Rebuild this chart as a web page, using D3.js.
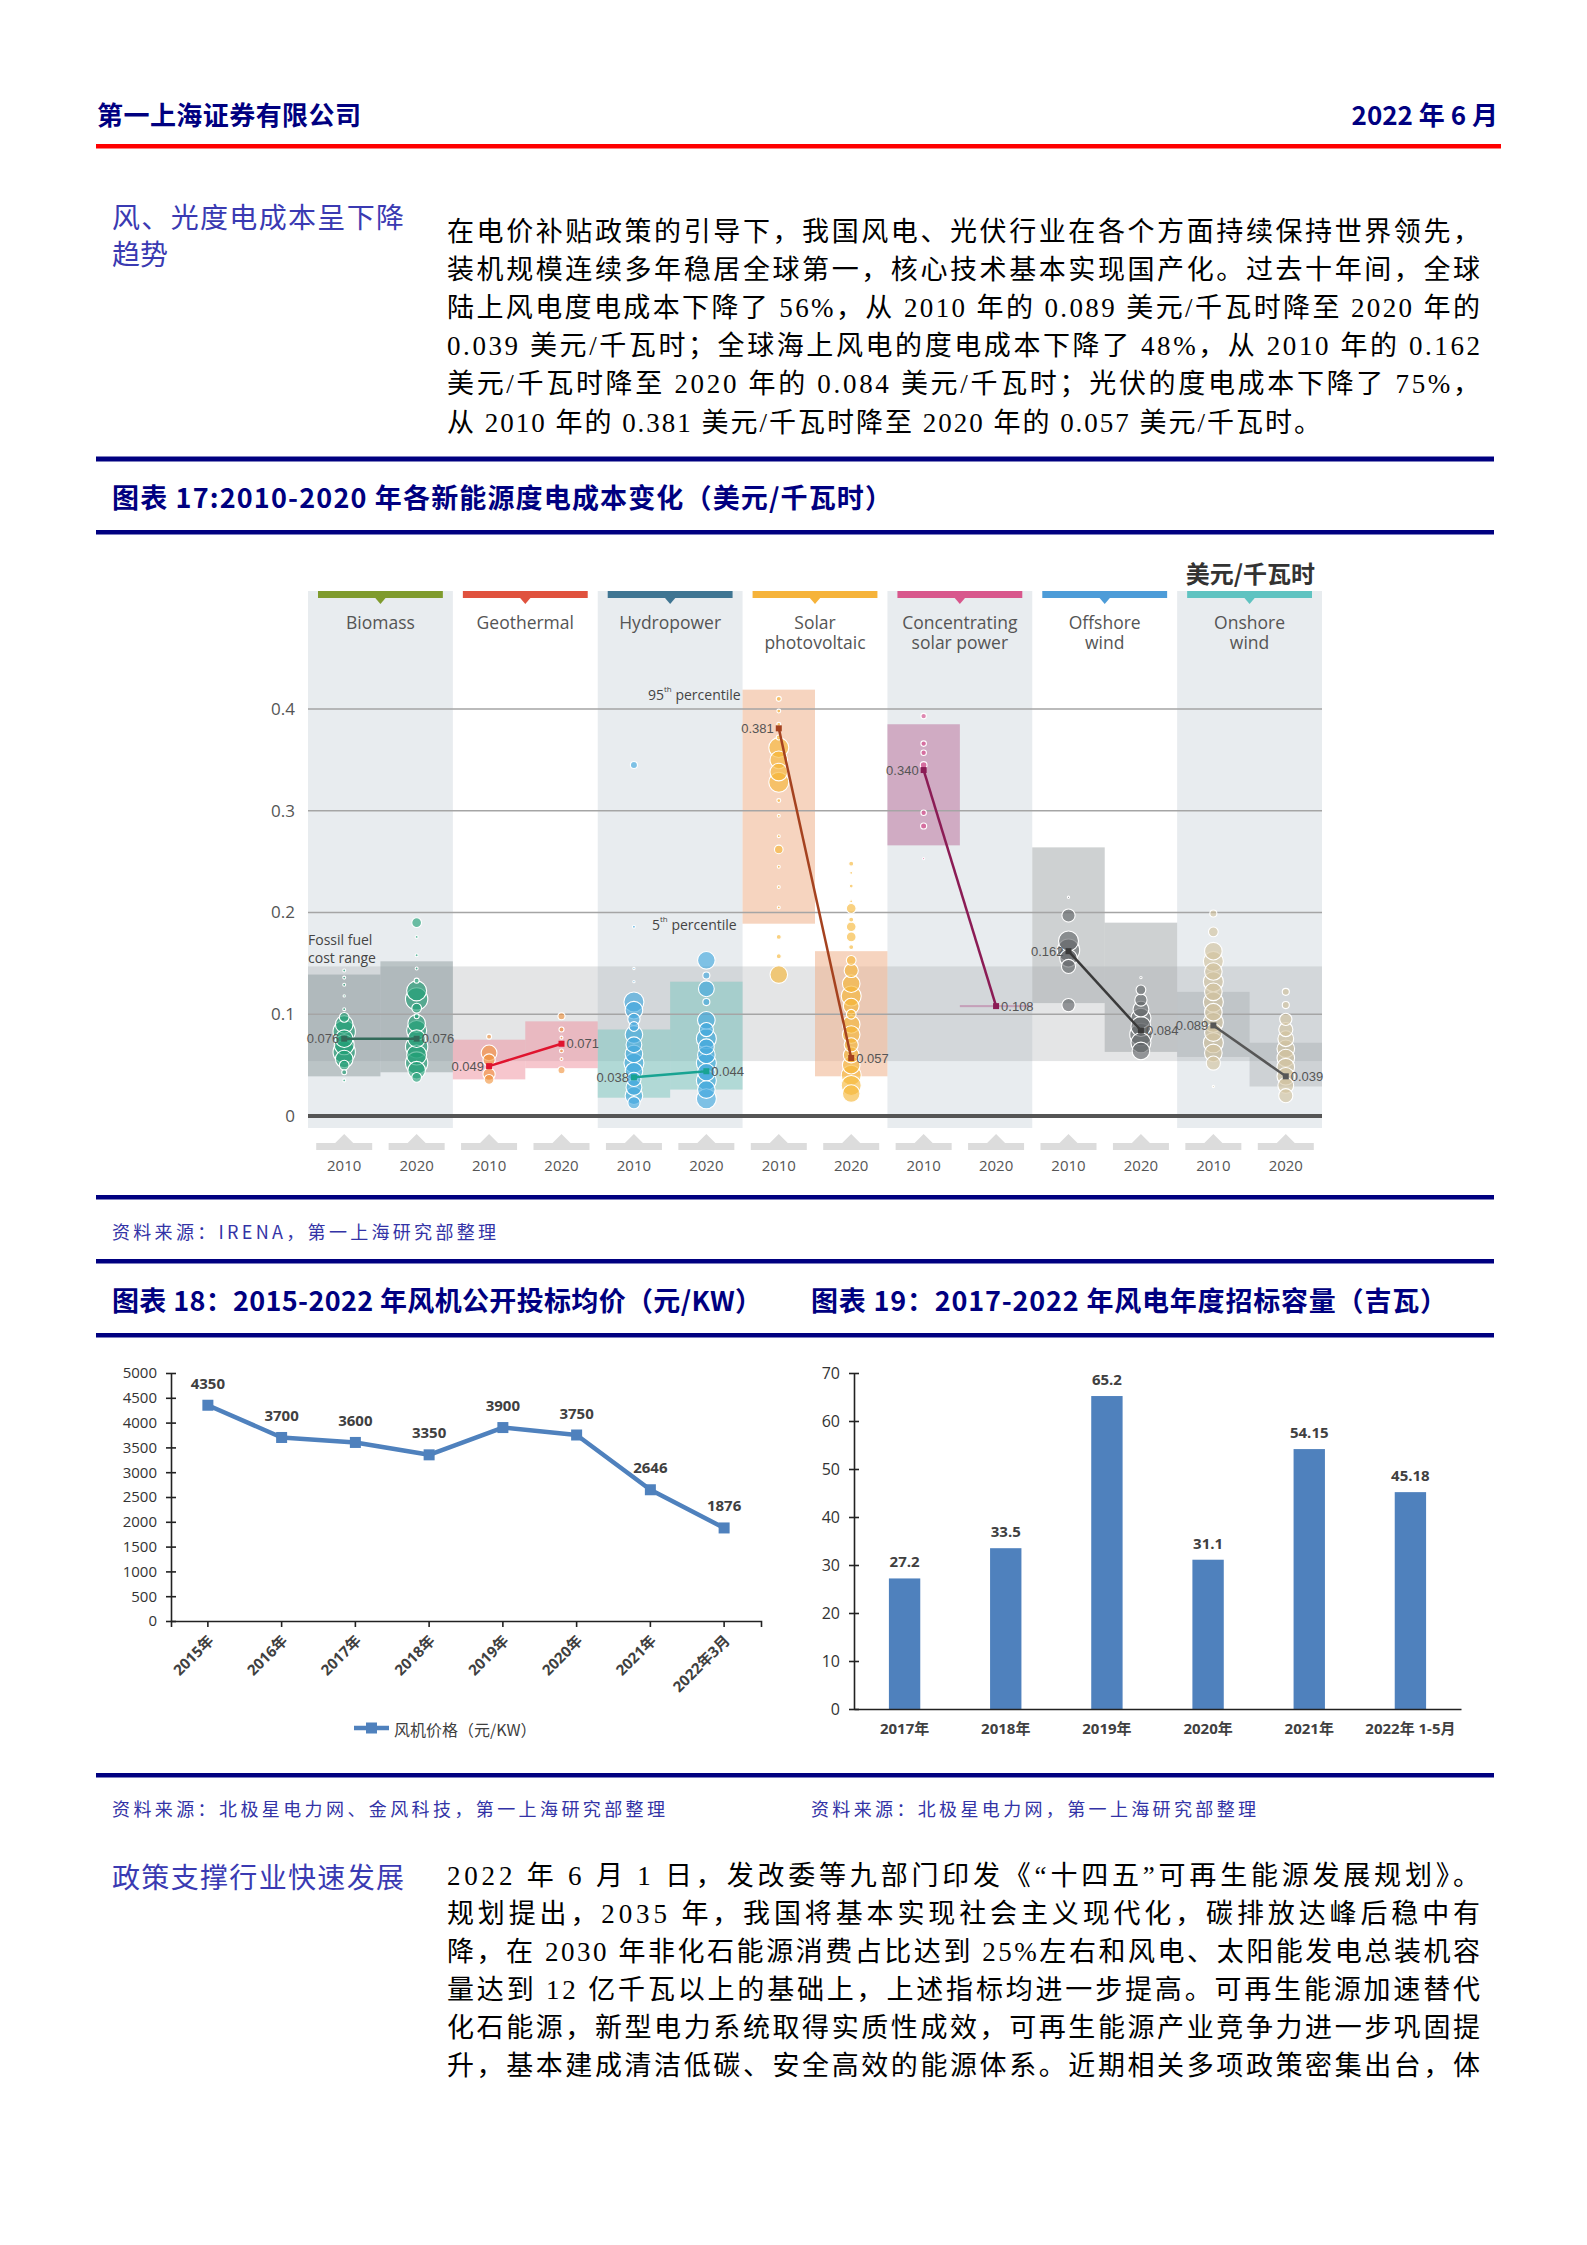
<!DOCTYPE html>
<html>
<head>
<meta charset="utf-8">
<script src="https://cdn.jsdelivr.net/npm/d3@7"></script>
<style>
body { margin: 0; background: #fff; }
svg { display: block; }
</style>
</head>
<body>
<script>
// ---- page text ----
var headerLeft = "第一上海证券有限公司";
var headerRight = "2022 年 6 月";
var side1 = ["风、光度电成本呈下降", "趋势"];
var para1 = [
  "在电价补贴政策的引导下，我国风电、光伏行业在各个方面持续保持世界领先，",
  "装机规模连续多年稳居全球第一，核心技术基本实现国产化。过去十年间，全球",
  "陆上风电度电成本下降了 56%，从 2010 年的 0.089 美元/千瓦时降至 2020 年的",
  "0.039 美元/千瓦时；全球海上风电的度电成本下降了 48%，从 2010 年的 0.162",
  "美元/千瓦时降至 2020 年的 0.084 美元/千瓦时；光伏的度电成本下降了 75%，",
  "从 2010 年的 0.381 美元/千瓦时降至 2020 年的 0.057 美元/千瓦时。"
];
var title17 = "图表 17:2010-2020 年各新能源度电成本变化（美元/千瓦时）";
var source17 = "资料来源：IRENA，第一上海研究部整理";
var title18 = "图表 18：2015-2022 年风机公开投标均价（元/KW）";
var title19 = "图表 19：2017-2022 年风电年度招标容量（吉瓦）";
var source18 = "资料来源：北极星电力网、金风科技，第一上海研究部整理";
var source19 = "资料来源：北极星电力网，第一上海研究部整理";
var side2 = ["政策支撑行业快速发展"];
var para2 = [
  "2022 年 6 月 1 日，发改委等九部门印发《“十四五”可再生能源发展规划》。",
  "规划提出，2035 年，我国将基本实现社会主义现代化，碳排放达峰后稳中有",
  "降，在 2030 年非化石能源消费占比达到 25%左右和风电、太阳能发电总装机容",
  "量达到 12 亿千瓦以上的基础上，上述指标均进一步提高。可再生能源加速替代",
  "化石能源，新型电力系统取得实质性成效，可再生能源产业竞争力进一步巩固提",
  "升，基本建成清洁低碳、安全高效的能源体系。近期相关多项政策密集出台，体"
];

// ---- chart 17 data ----
var techNames = [["Biomass"], ["Geothermal"], ["Hydropower"], ["Solar", "photovoltaic"],
  ["Concentrating", "solar power"], ["Offshore", "wind"], ["Onshore", "wind"]];
var costYears = ["2010", "2020"];
var avgCost2010 = [0.076, 0.049, 0.038, 0.381, 0.340, 0.162, 0.089];
var avgCost2020 = [0.076, 0.071, 0.044, 0.057, 0.108, 0.084, 0.039];
var range2010 = [[0.039, 0.139], [0.036, 0.075], [0.018, 0.085], [0.189, 0.419], [0.266, 0.385], [0.111, 0.264], [0.058, 0.122]];
var range2020 = [[0.043, 0.152], [0.047, 0.093], [0.026, 0.132], [0.039, 0.162], [0.107, 0.109], [0.063, 0.190], [0.029, 0.072]];
var fossilRange = [0.054, 0.147];
var costTicks = [0, 0.1, 0.2, 0.3, 0.4];
// project bubbles: [cost, capacity]
var bubbles2010 = [
  [[0.143,35],[0.136,35],[0.129,35],[0.118,20],[0.105,35],[0.097,380],[0.090,1240],[0.083,2000],[0.076,1240],[0.070,1600],[0.063,2000],[0.056,1240],[0.050,380],[0.043,100],[0.035,35]],
  [[0.078,100],[0.062,1000],[0.055,600],[0.041,600],[0.036,380]],
  [[0.345,200],[0.186,35],[0.145,20],[0.132,20],[0.112,1600],[0.104,1240],[0.095,600],[0.088,380],[0.080,1240],[0.070,1000],[0.061,1240],[0.052,1600],[0.044,1240],[0.036,800],[0.028,1000],[0.020,1240],[0.013,600]],
  [[0.410,100],[0.398,60],[0.385,60],[0.372,100],[0.362,1600],[0.350,1240],[0.338,1240],[0.328,1600],[0.310,60],[0.295,35],[0.275,35],[0.262,300],[0.245,35],[0.225,35],[0.205,35],[0.176,100],[0.157,100],[0.139,1240]],
  [[0.393,120],[0.366,120],[0.357,120],[0.345,180],[0.298,120],[0.285,150],[0.253,20]],
  [[0.215,20],[0.197,700],[0.172,1600],[0.163,2000],[0.155,1240],[0.147,800],[0.109,700]],
  [[0.199,200],[0.181,380],[0.162,1240],[0.152,1600],[0.142,1240],[0.132,1600],[0.122,1240],[0.112,1600],[0.102,1240],[0.092,1600],[0.082,1240],[0.072,1600],[0.062,1240],[0.052,800],[0.029,20]]
];
var bubbles2020 = [
  [[0.190,380],[0.176,35],[0.158,35],[0.145,35],[0.133,100],[0.123,1600],[0.115,2000],[0.106,380],[0.098,100],[0.091,1240],[0.084,1600],[0.076,1240],[0.068,2000],[0.060,1600],[0.052,2000],[0.045,1240],[0.038,380]],
  [[0.098,200],[0.085,100],[0.077,35],[0.064,60],[0.056,35],[0.045,200]],
  [[0.153,1240],[0.138,200],[0.125,1000],[0.112,200],[0.094,1240],[0.085,800],[0.076,1600],[0.068,1000],[0.060,1240],[0.052,1600],[0.043,1240],[0.035,1600],[0.026,1240],[0.017,1600]],
  [[0.248,100],[0.239,35],[0.226,60],[0.211,35],[0.204,380],[0.193,100],[0.186,380],[0.176,380],[0.166,100],[0.153,380],[0.143,800],[0.130,1240],[0.118,1600],[0.108,1000],[0.100,380],[0.090,1240],[0.080,1240],[0.070,800],[0.060,1000],[0.050,1240],[0.040,1600],[0.030,1600],[0.022,1240]],
  [],
  [[0.136,20],[0.124,380],[0.114,600],[0.105,1000],[0.096,1600],[0.088,1600],[0.080,2000],[0.072,1600],[0.064,1240]],
  [[0.122,200],[0.109,200],[0.095,600],[0.085,800],[0.076,1000],[0.066,1240],[0.057,1240],[0.048,1240],[0.039,1240],[0.030,1000],[0.020,800]]
];

// ---- chart 18 / 19 data ----
var priceCats = ["2015年", "2016年", "2017年", "2018年", "2019年", "2020年", "2021年", "2022年3月"];
var priceVals = [4350, 3700, 3600, 3350, 3900, 3750, 2646, 1876];
var priceTicks = [0, 500, 1000, 1500, 2000, 2500, 3000, 3500, 4000, 4500, 5000];
var bidCats = ["2017年", "2018年", "2019年", "2020年", "2021年", "2022年 1-5月"];
var bidVals = [27.2, 33.5, 65.2, 31.1, 54.15, 45.18];
var bidTicks = [0, 10, 20, 30, 40, 50, 60, 70];

// colours
var NAVY = "#000080";
var techColors = ["#7f9b2d", "#e0523e", "#3f7592", "#f6b33a", "#d8578c", "#4d9cd8", "#5fc3c1"];
var bubbleColors = ["#1d9e74", "#f0913a", "#3ea6df", "#f5b532", "#d84b8a", "#5f6365", "#d2c29c"];
var lineColors = ["#336b5a", "#e0142e", "#18a392", "#a5421f", "#8b1c55", "#3a3a3a", "#575757"];
var boxColors = ["#8e9b9e", "#ee8d9b", "#79c6bd", "#eeb08a", "#b86a98", "#9ea3a6", "#9ea3a6"];
var BLUE = "#4f81bd";

var CJK = "'Noto Sans CJK SC', sans-serif";
var BODY = "'Liberation Serif', 'Noto Sans CJK SC', serif";
var SANS = "'Open Sans', 'Noto Sans CJK SC', sans-serif";

var svg = d3.select("body").append("svg")
    .attr("width", 1587)
    .attr("height", 2245);
svg.append("rect").attr("width", 1587).attr("height", 2245).attr("fill", "#fff");

function addText(x, y, str, o) {
  var t = svg.append("text")
      .attr("x", x).attr("y", y)
      .attr("dominant-baseline", "central")
      .attr("font-family", o.font || BODY)
      .attr("font-size", o.size)
      .attr("fill", o.color || "#000")
      .text(str);
  if (o.weight) t.attr("font-weight", o.weight);
  if (o.anchor) t.attr("text-anchor", o.anchor);
  if (o.len) t.attr("textLength", o.len).attr("lengthAdjust", "spacing");
  return t;
}
function rule(y, h, color, x0, x1) {
  svg.append("rect").attr("x", x0 || 96).attr("y", y)
     .attr("width", (x1 || 1494) - (x0 || 96)).attr("height", h).attr("fill", color);
}

// ---- header ----
addText(97, 113, headerLeft, {size: 26, weight: "bold", color: NAVY, font: CJK, len: 264});
addText(1498, 113, headerRight, {size: 26, weight: "bold", color: NAVY, font: "'Liberation Sans Narrow', 'Noto Sans CJK SC', sans-serif", anchor: "end"});
rule(144, 4.5, "#ff0000", 96, 1501);

// ---- paragraph 1 ----
addText(112, 216, side1[0], {size: 28, color: "#3a3ab2", font: CJK, len: 292});
addText(112, 253, side1[1], {size: 28, color: "#3a3ab2", font: CJK});
para1.forEach(function (s, i) {
  var last = i === para1.length - 1;
  addText(447, 231.5 + i * 38.2, s, {size: 27, len: last ? 874 : 1033});
});

// ---- chart 17 ----
rule(456.5, 5, NAVY);
addText(112, 496, title17, {size: 27, weight: "bold", color: NAVY, font: CJK, len: 780});
rule(530, 4.5, NAVY);

var x17 = d3.scaleBand().domain(techNames.map(function (d, i) { return i; })).range([308, 1322]);
var xYear = d3.scaleBand().domain(costYears).range([0, x17.bandwidth()]);
var y17 = d3.scaleLinear().domain([0, 0.4]).range([1116, 709]);
var r17 = d3.scaleSqrt().domain([0, 2500]).range([0, 12.5]);
function cx17(i, yr) { return x17(i) + xYear(yr) + xYear.bandwidth() / 2; }

var g17 = svg.append("g");
// column backgrounds
g17.selectAll("rect.colbg")
    .data(techNames.filter(function (d, i) { return i % 2 === 0; }))
    .enter().append("rect")
    .attr("x", function (d) { return x17(techNames.indexOf(d)); })
    .attr("y", 591)
    .attr("width", x17.bandwidth())
    .attr("height", 1128 - 591)
    .attr("fill", "#e8ecef");
// colored header tabs
techNames.forEach(function (d, i) {
  var c = x17(i) + x17.bandwidth() / 2;
  g17.append("rect").attr("x", x17(i) + 10).attr("y", 591)
     .attr("width", x17.bandwidth() - 20).attr("height", 7).attr("fill", techColors[i]);
  g17.append("path").attr("d", "M" + (c - 6) + ",597L" + (c + 6) + ",597L" + c + ",604Z").attr("fill", techColors[i]);
  d.forEach(function (s, k) {
    g17.append("text").attr("x", c).attr("y", 622 + k * 20)
       .attr("text-anchor", "middle").attr("dominant-baseline", "central")
       .attr("font-family", SANS).attr("font-size", 17.5).attr("fill", "#555").text(s);
  });
});
// fossil fuel band
g17.append("rect").attr("x", 308).attr("width", 1014)
   .attr("y", y17(fossilRange[1])).attr("height", y17(fossilRange[0]) - y17(fossilRange[1]))
   .attr("fill", "#9ea3a6").attr("opacity", 0.28);
// 5th-95th percentile boxes
[range2010, range2020].forEach(function (ranges, k) {
  var yr = costYears[k];
  g17.selectAll("rect.box" + yr)
      .data(ranges)
      .enter().append("rect")
      .attr("x", function (d, i) { return x17(i) + xYear(yr); })
      .attr("y", function (d) { return y17(d[1]); })
      .attr("width", xYear.bandwidth())
      .attr("height", function (d) { return y17(d[0]) - y17(d[1]); })
      .attr("fill", function (d, i) { return boxColors[i]; })
      .attr("opacity", function (d, i) { return i === 3 ? 0.55 : i === 6 ? 0.35 : 0.5; });
});
// grid
g17.selectAll("line.grid")
    .data(costTicks.slice(1))
    .enter().append("line")
    .attr("x1", 308).attr("x2", 1322)
    .attr("y1", function (d) { return y17(d); })
    .attr("y2", function (d) { return y17(d); })
    .attr("stroke", "#a5a5a5").attr("stroke-width", 1.5);
g17.append("line").attr("x1", 308).attr("x2", 1322)
   .attr("y1", y17(0)).attr("y2", y17(0)).attr("stroke", "#555").attr("stroke-width", 4);
var ay17 = g17.append("g").attr("transform", "translate(308,0)")
    .call(d3.axisLeft(y17).tickValues(costTicks).tickSize(0).tickPadding(13)
      .tickFormat(function (d) { return d === 0 ? "0" : d3.format(".1f")(d); }));
ay17.select(".domain").remove();
ay17.selectAll("text").attr("font-family", SANS).attr("font-size", 17).attr("fill", "#555");

// bubbles
[bubbles2010, bubbles2020].forEach(function (groups, k) {
  var yr = costYears[k];
  groups.forEach(function (pts, i) {
    var sorted = pts.slice().sort(function (a, b) { return b[1] - a[1]; });
    g17.selectAll("circle.b" + yr + "_" + i)
        .data(sorted)
        .enter().append("circle")
        .attr("cx", cx17(i, yr))
        .attr("cy", function (d) { return y17(d[0]); })
        .attr("r", function (d) { return Math.max(1, r17(d[1])); })
        .attr("fill", bubbleColors[i])
        .attr("fill-opacity", 0.62)
        .attr("stroke", "#fff").attr("stroke-width", 1.1);
  });
});

// weighted average lines
techNames.forEach(function (d, i) {
  var xa = cx17(i, "2010"), xb = cx17(i, "2020");
  var ya = y17(avgCost2010[i]), yb = y17(avgCost2020[i]);
  g17.append("line").attr("x1", xa).attr("y1", ya).attr("x2", xb).attr("y2", yb)
     .attr("stroke", lineColors[i]).attr("stroke-width", 2.5);
  [[xa, ya], [xb, yb]].forEach(function (p) {
    g17.append("rect").attr("x", p[0] - 3).attr("y", p[1] - 3).attr("width", 6).attr("height", 6)
       .attr("fill", lineColors[i]);
  });
  g17.append("text").attr("x", xa - 5).attr("y", ya).attr("text-anchor", "end")
     .attr("dominant-baseline", "central").attr("font-family", "'Liberation Sans Narrow', sans-serif")
     .attr("font-size", 13).attr("fill", "#555").text(d3.format(".3f")(avgCost2010[i]));
  g17.append("text").attr("x", xb + 5).attr("y", yb).attr("text-anchor", "start")
     .attr("dominant-baseline", "central").attr("font-family", "'Liberation Sans Narrow', sans-serif")
     .attr("font-size", 13).attr("fill", "#555").text(d3.format(".3f")(avgCost2020[i]));
});

// annotations
function pct(x, y, num, sup) {
  var t = g17.append("text").attr("x", x).attr("y", y).attr("dominant-baseline", "central")
     .attr("font-family", SANS).attr("font-size", 14).attr("fill", "#444");
  t.append("tspan").text(num);
  t.append("tspan").attr("font-size", 8).attr("dy", -6).text(sup);
  t.append("tspan").attr("dy", 6).text(" percentile");
}
pct(648, 694, "95", "th");
pct(652, 924, "5", "th");
g17.append("text").attr("x", 308).attr("y", 939).attr("dominant-baseline", "central")
   .attr("font-family", SANS).attr("font-size", 14).attr("fill", "#444").text("Fossil fuel");
g17.append("text").attr("x", 308).attr("y", 957).attr("dominant-baseline", "central")
   .attr("font-family", SANS).attr("font-size", 14).attr("fill", "#444").text("cost range");
g17.append("text").attr("x", 1315).attr("y", 572).attr("text-anchor", "end").attr("dominant-baseline", "central")
   .attr("font-family", CJK).attr("font-size", 24).attr("font-weight", "bold").attr("fill", "#333").text("美元/千瓦时");

// year markers under axis
techNames.forEach(function (d, i) {
  costYears.forEach(function (yr) {
    var c = cx17(i, yr);
    g17.append("path")
       .attr("d", "M" + (c - 28) + ",1150V1143H" + (c - 9) + "L" + c + ",1134L" + (c + 9) + ",1143H" + (c + 28) + "V1150Z")
       .attr("fill", "#dcdcdc");
    g17.append("text").attr("x", c).attr("y", 1165).attr("text-anchor", "middle")
       .attr("dominant-baseline", "central").attr("font-family", SANS).attr("font-size", 15)
       .attr("fill", "#555").text(yr);
  });
});

rule(1195, 4.5, NAVY);
addText(112, 1231, source17, {size: 18, color: "#3333a6", font: CJK, len: 384});
rule(1259, 4.5, NAVY);
addText(112, 1299, title18, {size: 27, weight: "bold", color: NAVY, font: CJK, len: 650});
addText(811, 1299, title19, {size: 27, weight: "bold", color: NAVY, font: CJK, len: 636});
rule(1333, 4.5, NAVY);

// ---- chart 18 ----
var g18 = svg.append("g");
var x18 = d3.scaleBand().domain(priceCats).range([171, 761]);
var y18 = d3.scaleLinear().domain([0, 5000]).range([1621, 1373]);
var ay18 = g18.append("g").attr("transform", "translate(171,0)")
    .call(d3.axisLeft(y18).tickValues(priceTicks).tickFormat(d3.format("d"))
      .tickSize(5).tickSizeOuter(0).tickPadding(9));
ay18.selectAll(".tick line").attr("x1", 5);
var ax18 = g18.append("g").attr("transform", "translate(0,1621)")
    .call(d3.axisBottom(x18).tickSize(6).tickSizeOuter(6));
[ay18, ax18].forEach(function (a) {
  a.select(".domain").attr("stroke", "#222").attr("stroke-width", 1.6);
  a.selectAll(".tick line").attr("stroke", "#222").attr("stroke-width", 1.6);
});
ay18.selectAll("text").attr("font-family", SANS).attr("font-size", 15).attr("fill", "#333");
ax18.selectAll("text")
    .attr("x", 0).attr("y", 0).attr("dy", "0.35em")
    .attr("transform", "translate(3,17) rotate(-45)")
    .attr("text-anchor", "end")
    .attr("font-family", SANS).attr("font-size", 15).attr("font-weight", "bold").attr("fill", "#404040");

var pts18 = priceCats.map(function (c, i) { return {c: c, v: priceVals[i]}; });
var line18 = d3.line()
    .x(function (d) { return x18(d.c) + x18.bandwidth() / 2; })
    .y(function (d) { return y18(d.v); });
g18.append("path").datum(pts18).attr("d", line18)
   .attr("fill", "none").attr("stroke", BLUE).attr("stroke-width", 4.5).attr("stroke-linejoin", "round");
g18.selectAll("rect.mk")
    .data(pts18).enter().append("rect")
    .attr("x", function (d) { return x18(d.c) + x18.bandwidth() / 2 - 5.5; })
    .attr("y", function (d) { return y18(d.v) - 5.5; })
    .attr("width", 11).attr("height", 11).attr("fill", BLUE);
g18.selectAll("text.lbl")
    .data(pts18).enter().append("text")
    .attr("x", function (d) { return x18(d.c) + x18.bandwidth() / 2; })
    .attr("y", function (d) { return y18(d.v) - 22.5; })
    .attr("text-anchor", "middle").attr("dominant-baseline", "central")
    .attr("font-family", SANS).attr("font-size", 15).attr("font-weight", "bold").attr("fill", "#404040")
    .text(function (d) { return d.v; });
// legend
g18.append("line").attr("x1", 354).attr("x2", 389).attr("y1", 1728).attr("y2", 1728)
   .attr("stroke", BLUE).attr("stroke-width", 4.5);
g18.append("rect").attr("x", 366).attr("y", 1722.5).attr("width", 11).attr("height", 11).attr("fill", BLUE);
g18.append("text").attr("x", 394).attr("y", 1729).attr("dominant-baseline", "central")
   .attr("font-family", CJK).attr("font-size", 16).attr("fill", "#404040").text("风机价格（元/KW）");

// ---- chart 19 ----
var g19 = svg.append("g");
var x19 = d3.scaleBand().domain(bidCats).range([854, 1461]).paddingInner(0.69).paddingOuter(0.345);
var y19 = d3.scaleLinear().domain([0, 70]).range([1709, 1373]);
g19.selectAll("rect.bar")
    .data(bidVals).enter().append("rect")
    .attr("x", function (d, i) { return x19(bidCats[i]); })
    .attr("y", function (d) { return y19(d); })
    .attr("width", x19.bandwidth())
    .attr("height", function (d) { return y19(0) - y19(d); })
    .attr("fill", BLUE);
g19.selectAll("text.lbl")
    .data(bidVals).enter().append("text")
    .attr("x", function (d, i) { return x19(bidCats[i]) + x19.bandwidth() / 2; })
    .attr("y", function (d) { return y19(d) - 17; })
    .attr("text-anchor", "middle").attr("dominant-baseline", "central")
    .attr("font-family", SANS).attr("font-size", 15).attr("font-weight", "bold").attr("fill", "#404040")
    .text(function (d) { return d; });
var ay19 = g19.append("g").attr("transform", "translate(854,0)")
    .call(d3.axisLeft(y19).tickValues(bidTicks).tickSize(5).tickSizeOuter(0).tickPadding(9));
ay19.selectAll(".tick line").attr("x1", 5);
var ax19 = g19.append("g").attr("transform", "translate(0,1709)")
    .call(d3.axisBottom(x19).tickSize(0).tickSizeOuter(0).tickPadding(14));
[ay19, ax19].forEach(function (a) {
  a.select(".domain").attr("stroke", "#222").attr("stroke-width", 1.6);
  a.selectAll(".tick line").attr("stroke", "#222").attr("stroke-width", 1.6);
});
ay19.selectAll("text").attr("font-family", SANS).attr("font-size", 16).attr("fill", "#333");
ax19.selectAll("text").attr("font-family", SANS).attr("font-size", 15).attr("font-weight", "bold").attr("fill", "#404040");

rule(1773, 4.5, NAVY);
addText(112, 1808, source18, {size: 18, color: "#3333a6", font: CJK, len: 553});
addText(811, 1808, source19, {size: 18, color: "#3333a6", font: CJK, len: 445});

// ---- paragraph 2 ----
addText(112, 1876, side2[0], {size: 28, color: "#3a3ab2", font: CJK, len: 292});
para2.forEach(function (s, i) {
  addText(447, 1876 + i * 38, s, {size: 27, len: 1033});
});
</script>
</body>
</html>
